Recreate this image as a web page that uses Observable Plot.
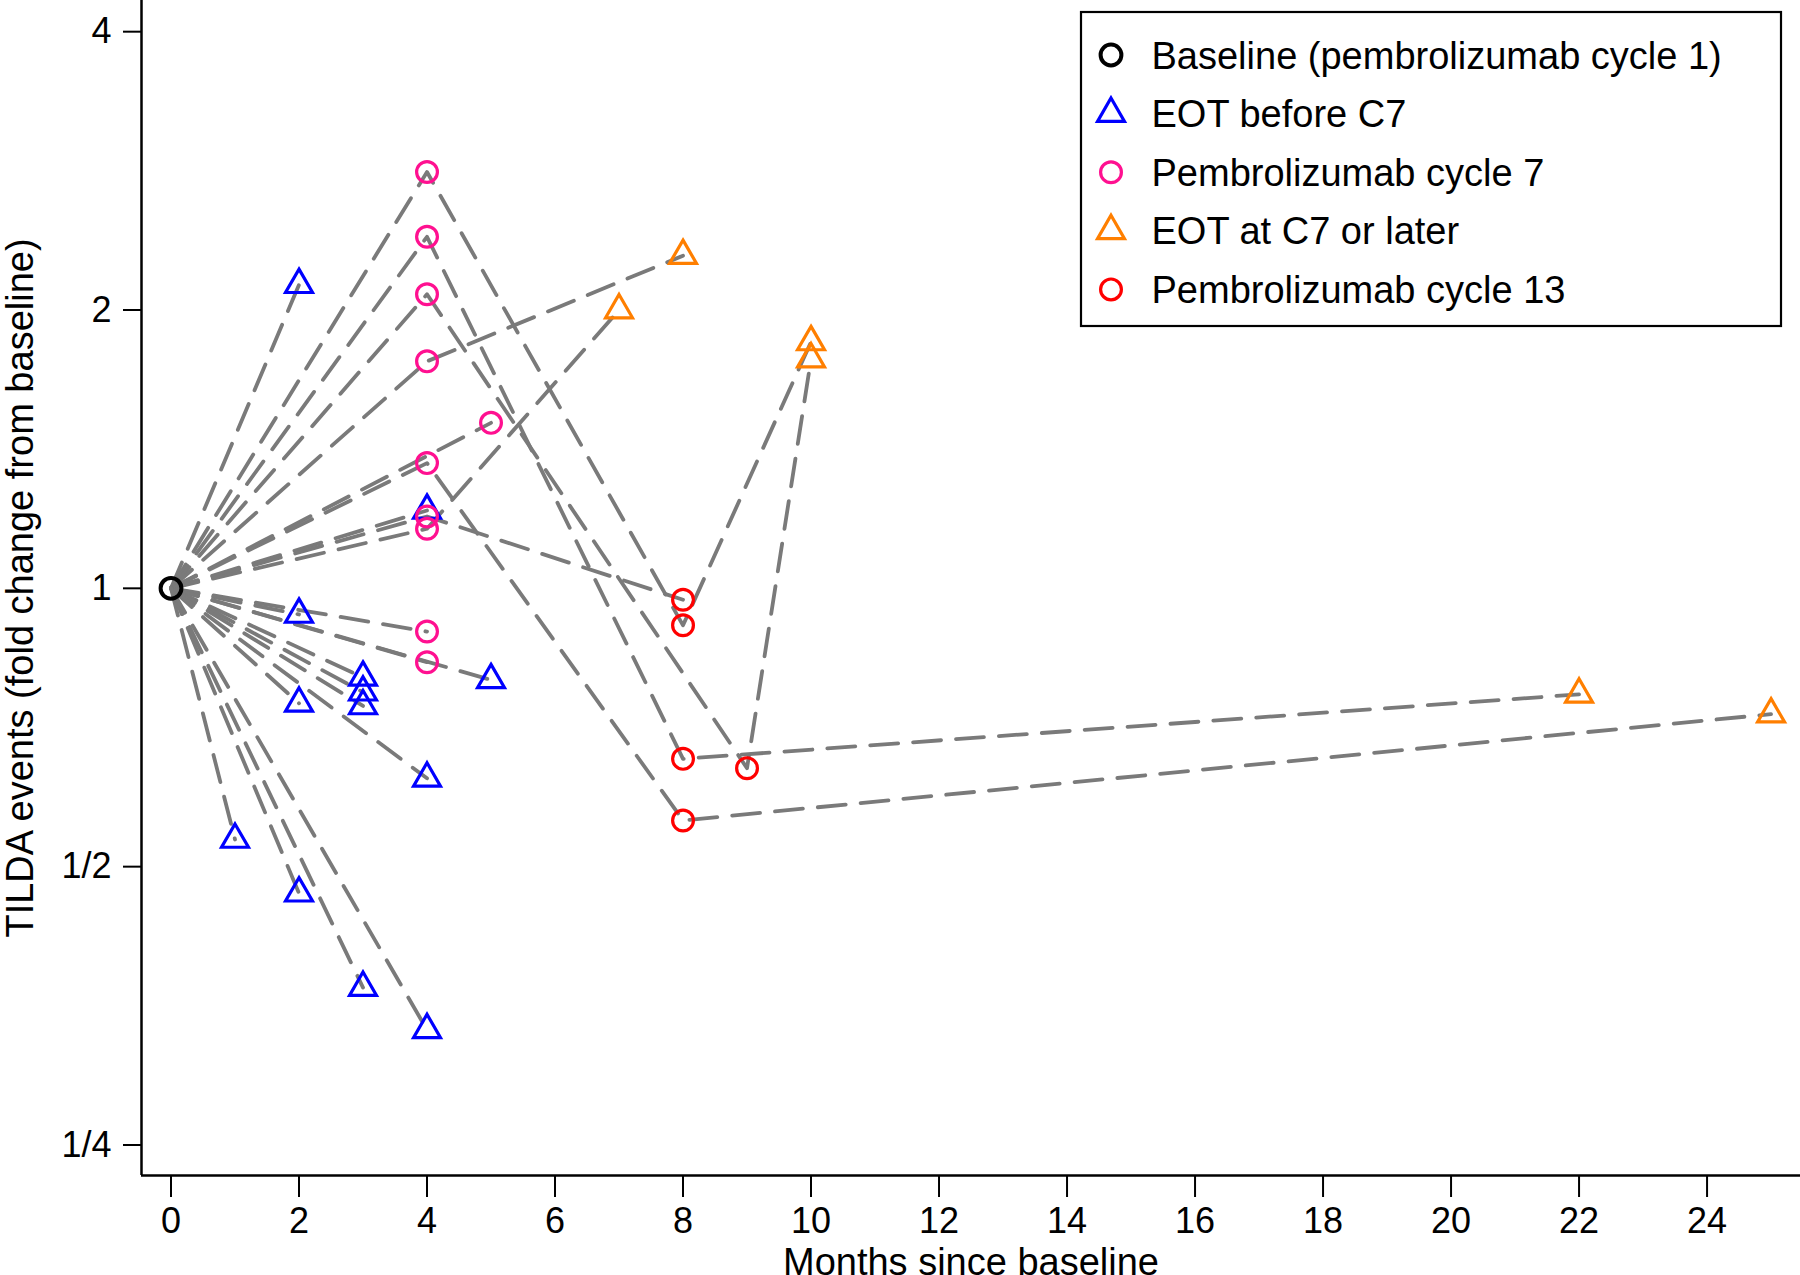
<!DOCTYPE html>
<html>
<head>
<meta charset="utf-8">
<script src="https://cdn.jsdelivr.net/npm/d3@7"></script>
<script src="https://cdn.jsdelivr.net/npm/@observablehq/plot@0.6"></script>
<style>
  html, body { margin: 0; padding: 0; background: #fff; overflow: hidden; }
  #wrap { position: relative; width: 1800px; height: 1275px; font-family: "Liberation Sans", Arial, Helvetica, sans-serif; }
  #legend { position: absolute; left: 0; top: 0; pointer-events: none; }
</style>
</head>
<body>
<div id="wrap"></div>
<script>
// ---- categories ----
const stages = [
  "Baseline (pembrolizumab cycle 1)",
  "EOT before C7",
  "Pembrolizumab cycle 7",
  "EOT at C7 or later",
  "Pembrolizumab cycle 13"
];
const stageColors  = ["#000000", "#0000ff", "#ff1090", "#ff7f00", "#ff0000"];
const stageSymbols = ["circle", "triangle", "circle", "triangle", "circle"];

// ---- per-patient trajectories (months, fold change, stage index) ----
const visitMonths = [
  [0, 2],
  [0, 4, 8, 10],
  [0, 4, 8, 22],
  [0, 4, 9, 10],
  [0, 4, 8],
  [0, 5],
  [0, 4, 8, 25],
  [0, 4],
  [0, 4, 8],
  [0, 4, 7],
  [0, 2],
  [0, 4],
  [0, 4],
  [0, 5],
  [0, 3],
  [0, 3],
  [0, 3],
  [0, 2],
  [0, 4],
  [0, 1],
  [0, 2],
  [0, 3],
  [0, 4]
];
const visitFold = [
  [1, 2.13],
  [1, 2.82, 0.912, 1.847],
  [1, 2.40, 0.654, 0.768],
  [1, 2.08, 0.639, 1.77],
  [1, 1.76, 2.29],
  [1, 1.51],
  [1, 1.366, 0.561, 0.731],
  [1, 1.214],
  [1, 1.196, 0.972],
  [1, 1.160, 2.0],
  [1, 0.937],
  [1, 0.898],
  [1, 0.832],
  [1, 0.796],
  [1, 0.801],
  [1, 0.772],
  [1, 0.746],
  [1, 0.751],
  [1, 0.623],
  [1, 0.535],
  [1, 0.468],
  [1, 0.370],
  [1, 0.333]
];
const visitStage = [
  [0, 1],
  [0, 2, 4, 3],
  [0, 2, 4, 3],
  [0, 2, 4, 3],
  [0, 2, 3],
  [0, 2],
  [0, 2, 4, 3],
  [0, 1],
  [0, 2, 4],
  [0, 2, 3],
  [0, 1],
  [0, 2],
  [0, 2],
  [0, 1],
  [0, 1],
  [0, 1],
  [0, 1],
  [0, 1],
  [0, 1],
  [0, 1],
  [0, 1],
  [0, 1],
  [0, 1]
];

// ---- axes ----
const xDomain = [-0.461, 25.46];
const yDomain = [0.2317, 4.323];
const xTicks = [0, 2, 4, 6, 8, 10, 12, 14, 16, 18, 20, 22, 24];
const yTicks = [0.25, 0.5, 1, 2, 4];
const yTickLabels = ["1/4", "1/2", "1", "2", "4"];
const xTitle = "Months since baseline";
const yTitle = "TILDA events (fold change from baseline)";

// ---- build table ----
const rows = [];
visitMonths.forEach((ms, i) => ms.forEach((m, j) => rows.push({
  patient: i + 1, month: m, fold: visitFold[i][j], stage: stages[visitStage[i][j]]
})));
const isTri = d => stageSymbols[stages.indexOf(d.stage)] === "triangle";
const isBase = d => d.stage === stages[0];

const font = '"Liberation Sans", Arial, Helvetica, sans-serif';
const triR = 10, circR = 10.4;

const chart = Plot.plot({
  width: 1800,
  height: 1275,
  marginLeft: 141,
  marginRight: 0,
  marginTop: 0,
  marginBottom: 100,
  style: { fontFamily: font, background: "white", color: "black", overflow: "visible" },
  x: { domain: xDomain },
  y: { type: "log", base: 2, domain: yDomain },
  color: { domain: stages, range: stageColors },
  symbol: { domain: stages, range: stageSymbols },
  marks: [
    Plot.line(rows, { x: "month", y: "fold", z: "patient", stroke: "#7a7a7a", strokeWidth: 3.8, strokeDasharray: "28,15" }),
    Plot.dot(rows.filter(isTri), { x: "month", y: "fold", symbol: "stage", stroke: "stage", fill: "none", r: triR, strokeWidth: 3.2 }),
    Plot.dot(rows.filter(d => !isTri(d) && !isBase(d)), { x: "month", y: "fold", symbol: "stage", stroke: "stage", fill: "none", r: circR, strokeWidth: 3.2 }),
    Plot.dot(rows.filter(isBase).slice(0, 1), { x: "month", y: "fold", symbol: "stage", stroke: "stage", fill: "none", r: circR, strokeWidth: 4 }),
    Plot.ruleX([xDomain[0]], { stroke: "black", strokeWidth: 2.5 }),
    Plot.ruleY([yDomain[0]], { stroke: "black", strokeWidth: 2.5 }),
    Plot.axisX({ ticks: xTicks, tickSize: 22, tickPadding: 10, fontSize: 36, strokeWidth: 2, label: null }),
    Plot.axisY({ ticks: yTicks, tickFormat: d => yTickLabels[yTicks.indexOf(d)], tickSize: 18, tickPadding: 12, fontSize: 36, strokeWidth: 2, label: null }),
    Plot.text([xTitle], { text: d => d, frameAnchor: "bottom", textAnchor: "middle", dy: 87, lineAnchor: "middle", fontSize: 38, fill: "black" }),
    Plot.text([yTitle], { text: d => d, frameAnchor: "left", textAnchor: "middle", dx: -121, rotate: -90, lineAnchor: "middle", fontSize: 38, fill: "black" })
  ]
});

const wrap = document.getElementById("wrap");
wrap.appendChild(chart);

// ---- legend overlay ----
const lg = d3.select(wrap).append("svg")
  .attr("id", "legend").attr("width", 1800).attr("height", 1275)
  .style("font-family", font);
lg.append("rect").attr("x", 1081).attr("y", 12).attr("width", 700).attr("height", 314)
  .attr("fill", "white").attr("stroke", "black").attr("stroke-width", 2.2);
const rowY0 = 55, rowStep = 58.6;
stages.forEach((s, i) => {
  const cy = rowY0 + i * rowStep;
  const tri = stageSymbols[i] === "triangle";
  const r = tri ? triR : circR;
  lg.append("path")
    .attr("d", d3.symbol(tri ? d3.symbolTriangle : d3.symbolCircle, Math.PI * r * r)())
    .attr("transform", `translate(1111,${cy})`)
    .attr("fill", "none").attr("stroke", stageColors[i]).attr("stroke-width", i === 0 ? 4 : 3.2);
  lg.append("text").attr("x", 1151.5).attr("y", cy + 13.5)
    .attr("font-size", 38).attr("fill", "black").text(s);
});
</script>
</body>
</html>
